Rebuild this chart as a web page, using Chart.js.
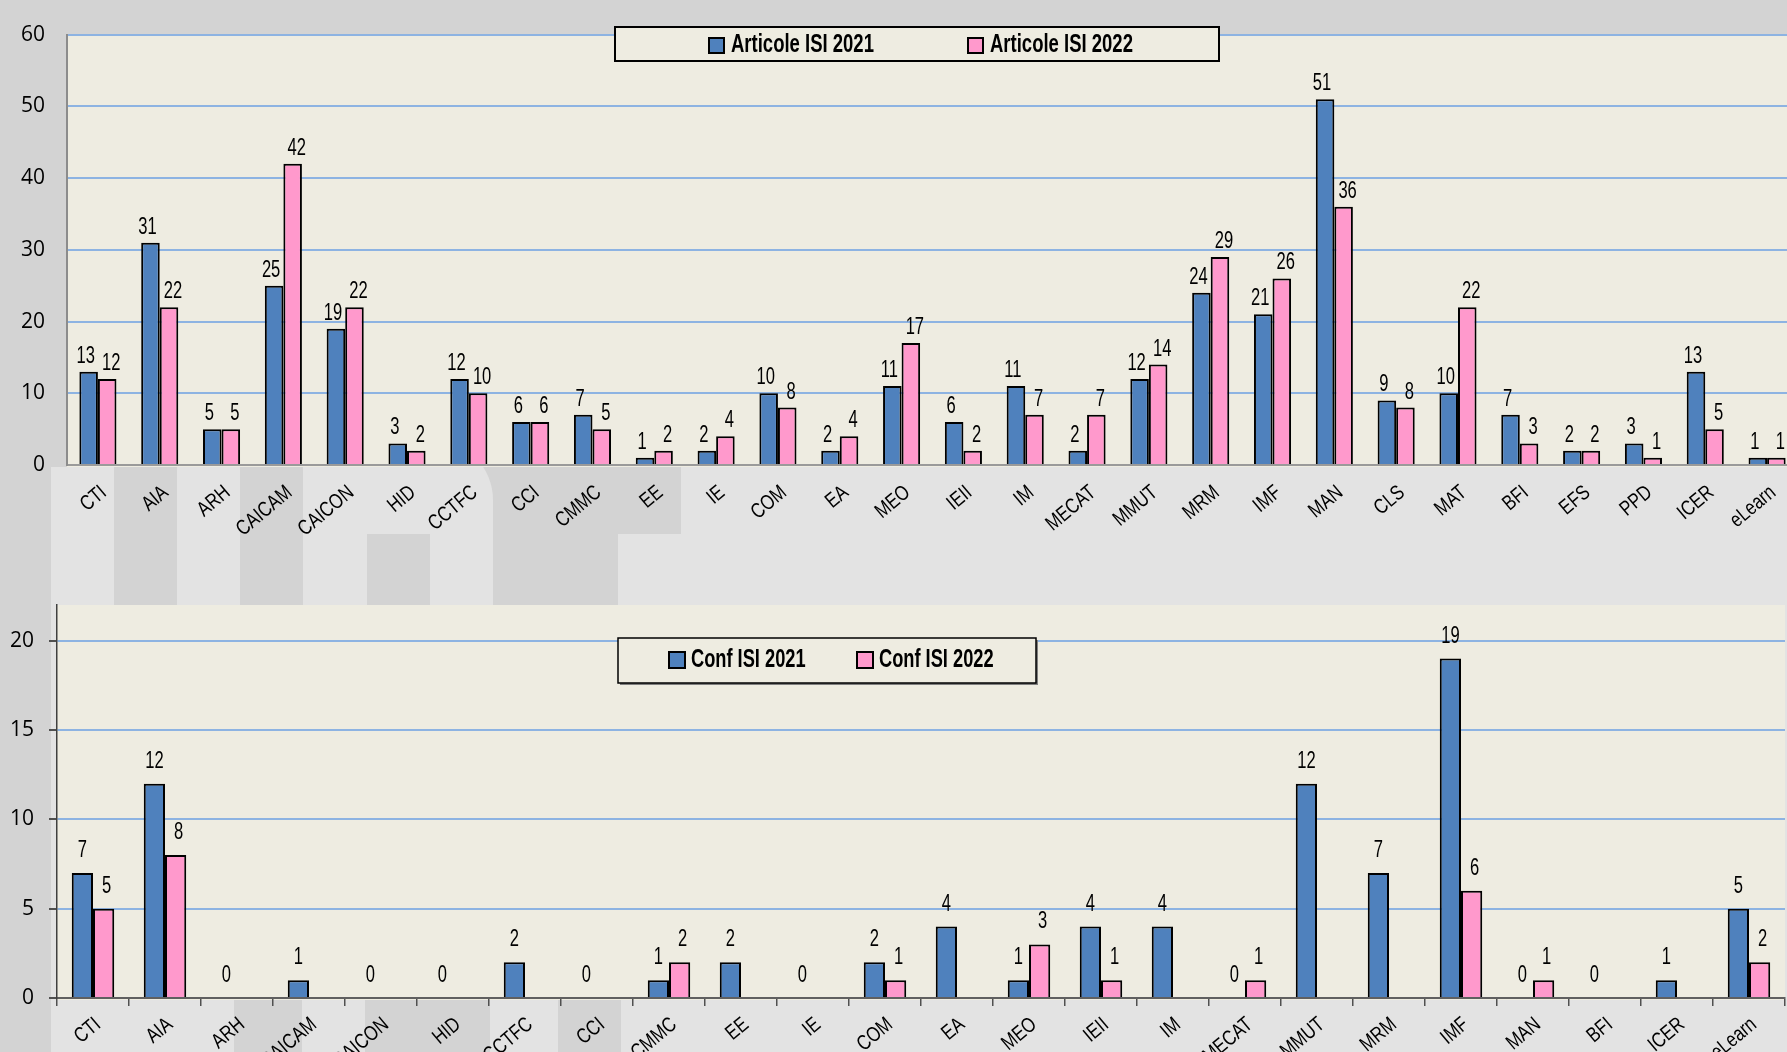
<!DOCTYPE html>
<html>
<head>
<meta charset="utf-8">
<script src="https://cdn.jsdelivr.net/npm/chart.js@4.4.1/dist/chart.umd.min.js"></script>
<style>
html, body { margin: 0; padding: 0; width: 1787px; height: 1052px; overflow: hidden; background: #e3e3e3; }
.dk { position: absolute; background: #d3d3d3; }
.lt { position: absolute; background: #e3e3e3; }
canvas { position: absolute; left: 0; }
</style>
</head>
<body>
<!-- grey backdrop with the faint logo shapes -->
<div class="dk" style="left:0;top:0;width:1787px;height:467px"></div>
<div class="dk" style="left:0;top:0;width:51px;height:1052px"></div>
<div class="dk" style="left:114px;top:467px;width:63px;height:138px"></div>
<div class="dk" style="left:240px;top:467px;width:63px;height:138px"></div>
<div class="dk" style="left:440px;top:467px;width:178px;height:67px"></div>
<div class="dk" style="left:493px;top:467px;width:125px;height:138px"></div>
<div class="dk" style="left:618px;top:467px;width:63px;height:67px"></div>
<div class="lt" style="left:303px;top:440px;width:190px;height:94px;border-top-right-radius:60px"></div>
<div class="dk" style="left:367px;top:534px;width:63px;height:71px"></div>
<div class="dk" style="left:234px;top:998px;width:68px;height:54px"></div>
<div class="dk" style="left:365px;top:998px;width:125px;height:54px"></div>
<div class="dk" style="left:558px;top:998px;width:63px;height:54px"></div>

<canvas id="articleChart" width="1800" height="604" style="top:0"></canvas>
<canvas id="confChart" width="1787" height="492" style="top:560px"></canvas>

<script>
// --- data ---
const articleLabels = ['CTI', 'AIA', 'ARH', 'CAICAM', 'CAICON', 'HID', 'CCTFC', 'CCI', 'CMMC', 'EE', 'IE', 'COM', 'EA', 'MEO',
    'IEII', 'IM', 'MECAT', 'MMUT', 'MRM', 'IMF', 'MAN', 'CLS', 'MAT', 'BFI', 'EFS', 'PPD', 'ICER', 'eLearn'];
const articles2021 = [13, 31, 5, 25, 19, 3, 12, 6, 7, 1, 2, 10, 2, 11, 6, 11, 2, 12, 24, 21, 51, 9, 10, 7, 2, 3, 13, 1];
const articles2022 = [12, 22, 5, 42, 22, 2, 10, 6, 5, 2, 4, 8, 4, 17, 2, 7, 7, 14, 29, 26, 36, 8, 22, 3, 2, 1, 5, 1];
const articleMax = 60, articleStep = 10;

const confLabels = ['CTI', 'AIA', 'ARH', 'CAICAM', 'CAICON', 'HID', 'CCTFC', 'CCI', 'CMMC', 'EE', 'IE', 'COM', 'EA', 'MEO',
    'IEII', 'IM', 'MECAT', 'MMUT', 'MRM', 'IMF', 'MAN', 'BFI', 'ICER', 'eLearn'];
const conf2021 = [7, 12, 0, 1, 0, 0, 2, 0, 1, 2, 0, 2, 4, 1, 4, 4, 0, 12, 7, 19, 0, 0, 1, 5];
const conf2022 = [5, 8, null, null, null, null, null, null, 2, null, null, 1, null, 3, 1, null, 1, null, null, 6, 1, null, null, 2];
const confMax = 22, confStep = 5;

const BLUE = '#4f81bd';
const PINK = '#ff99cc';
const PLOT_BG = '#eeece1';
// no condensed face installed, so Liberation Sans is squeezed horizontally where we draw text ourselves
const SANS = "'Liberation Sans', Arial, sans-serif";
const NUMFONT = "'Open Sans', 'Noto Sans', sans-serif";

Chart.defaults.devicePixelRatio = 1;
Chart.defaults.animation = false;

// beige plot area
const plotBackground = {
    id: 'plotBackground',
    beforeDraw(chart) {
        const a = chart.chartArea, ctx = chart.ctx;
        ctx.save();
        ctx.fillStyle = PLOT_BG;
        ctx.fillRect(a.left, a.top, a.right - a.left, a.bottom - a.top + 2);
        ctx.restore();
    }
};

// numbers above the bars
const valueLabels = {
    id: 'valueLabels',
    afterDatasetsDraw(chart, args, opts) {
        const ctx = chart.ctx;
        ctx.save();
        ctx.font = opts.font;
        ctx.fillStyle = '#000';
        ctx.textAlign = 'center';
        ctx.textBaseline = 'alphabetic';
        chart.data.datasets.forEach((ds, di) => {
            const meta = chart.getDatasetMeta(di);
            meta.data.forEach((bar, i) => {
                const v = ds.data[i];
                if (v === null || v === undefined) return;
                ctx.save();
                ctx.translate(bar.x + opts.shift[di], bar.y - opts.gap);
                ctx.scale(opts.squeeze, 1);
                ctx.fillText(String(v), 0, 0);
                ctx.restore();
            });
        });
        ctx.restore();
    }
};

// slanted category names under the x axis
const slantLabels = {
    id: 'slantLabels',
    afterDraw(chart, args, opts) {
        const xs = chart.scales.x, ctx = chart.ctx;
        ctx.save();
        ctx.font = opts.font;
        ctx.fillStyle = '#000';
        ctx.textAlign = 'right';
        ctx.textBaseline = 'middle';
        chart.data.labels.forEach((lab, i) => {
            ctx.save();
            ctx.translate(xs.getPixelForTick(i) + opts.dx, xs.top + opts.dy);
            ctx.rotate(-opts.angle * Math.PI / 180);
            ctx.scale(opts.squeeze, 1);
            ctx.fillText(lab, 0, 0);
            ctx.restore();
        });
        ctx.restore();
    }
};

// framed legend drawn inside the plot
const boxLegend = {
    id: 'boxLegend',
    afterDraw(chart, args, opts) {
        const ctx = chart.ctx, b = opts.box;
        ctx.save();
        if (opts.shadow) {
            ctx.fillStyle = '#7f7f7f';
            ctx.fillRect(b.x + 2, b.y + 2, b.w, b.h);
        }
        ctx.fillStyle = PLOT_BG;
        ctx.fillRect(b.x, b.y, b.w, b.h);
        ctx.lineWidth = opts.lineWidth;
        ctx.strokeStyle = '#000';
        ctx.strokeRect(b.x, b.y, b.w, b.h);
        ctx.font = opts.font;
        ctx.textBaseline = 'middle';
        ctx.textAlign = 'left';
        chart.data.datasets.forEach((ds, i) => {
            const x = opts.itemX[i];
            ctx.fillStyle = ds.backgroundColor;
            ctx.fillRect(x, opts.squareY, opts.square, opts.square);
            ctx.lineWidth = 2;
            ctx.strokeStyle = '#000';
            ctx.strokeRect(x, opts.squareY, opts.square, opts.square);
            ctx.fillStyle = '#000';
            ctx.save();
            ctx.translate(x + opts.square + opts.gap, opts.textY);
            ctx.scale(opts.squeeze, 1);
            ctx.fillText(ds.label, 0, 0);
            ctx.restore();
        });
        ctx.restore();
    }
};

new Chart(document.getElementById('articleChart'), {
    type: 'bar',
    data: {
        labels: articleLabels,
        datasets: [
            { label: 'Articole ISI 2021', data: articles2021, backgroundColor: BLUE, borderColor: '#000', borderWidth: 2 },
            { label: 'Articole ISI 2022', data: articles2022, backgroundColor: PINK, borderColor: '#000', borderWidth: 2 }
        ]
    },
    options: {
        responsive: false,
        categoryPercentage: 0.6,
        barPercentage: 1,
        layout: { padding: { top: 20, right: 2, left: 0, bottom: 0 } },
        plugins: {
            legend: { display: false },
            tooltip: { enabled: false },
            valueLabels: { font: '23px ' + SANS, squeeze: 0.72, gap: 9, shift: [-3, 4] },
            slantLabels: { font: '21px ' + SANS, squeeze: 0.8, angle: 40, dx: 6, dy: 25 },
            boxLegend: {
                box: { x: 615, y: 27, w: 604, h: 34 }, lineWidth: 2, shadow: false,
                itemX: [709, 968], squareY: 38, square: 15, gap: 7, textY: 45,
                font: 'bold 25px ' + SANS, squeeze: 0.74
            }
        },
        scales: {
            x: {
                grid: { display: false, drawTicks: false },
                border: { display: true, color: '#9a9a9a', width: 2 },
                ticks: { display: false },
                afterFit: s => { s.height = 139; }
            },
            y: {
                min: 0, max: articleMax,
                grid: { color: '#8db3e2', lineWidth: 2, drawTicks: false },
                border: { display: true, color: '#8c8c8c', width: 2 },
                ticks: { stepSize: articleStep, font: { family: NUMFONT, size: 21 }, color: '#000', padding: 22 },
                afterFit: s => { s.width = 67; }
            }
        }
    },
    plugins: [plotBackground, valueLabels, slantLabels, boxLegend]
});

new Chart(document.getElementById('confChart'), {
    type: 'bar',
    data: {
        labels: confLabels,
        datasets: [
            { label: 'Conf ISI 2021', data: conf2021, backgroundColor: BLUE, borderColor: '#000', borderWidth: 2 },
            { label: 'Conf ISI 2022', data: conf2022, backgroundColor: PINK, borderColor: '#000', borderWidth: 2 }
        ]
    },
    options: {
        responsive: false,
        categoryPercentage: 0.59,
        barPercentage: 1,
        layout: { padding: { top: 45, right: 2, left: 0, bottom: 0 } },
        plugins: {
            legend: { display: false },
            tooltip: { enabled: false },
            valueLabels: { font: '23px ' + SANS, squeeze: 0.72, gap: 16, shift: [0, 3] },
            slantLabels: { font: '21px ' + SANS, squeeze: 0.8, angle: 40, dx: 5, dy: 24 },
            boxLegend: {
                box: { x: 618, y: 78, w: 418, h: 45 }, lineWidth: 1.5, shadow: true,
                itemX: [669, 857], squareY: 92, square: 16, gap: 6, textY: 100,
                font: 'bold 25px ' + SANS, squeeze: 0.73
            }
        },
        scales: {
            x: {
                grid: { display: true, drawOnChartArea: false, drawTicks: true, tickLength: 8, tickColor: '#505050', lineWidth: 1.5 },
                border: { display: true, color: '#606060', width: 2 },
                ticks: { display: false },
                afterFit: s => { s.height = 54; }
            },
            y: {
                min: 0, max: confMax,
                grid: { color: '#8db3e2', lineWidth: 2, drawTicks: true, tickLength: 8, tickColor: '#505050' },
                border: { display: true, color: '#404040', width: 1.5 },
                ticks: { stepSize: confStep, font: { family: NUMFONT, size: 21 }, color: '#000', padding: 15 },
                afterBuildTicks: s => { s.ticks = s.ticks.filter(t => t.value % confStep === 0); },
                afterFit: s => { s.width = 57; }
            }
        }
    },
    plugins: [plotBackground, valueLabels, slantLabels, boxLegend]
});
</script>
</body>
</html>
